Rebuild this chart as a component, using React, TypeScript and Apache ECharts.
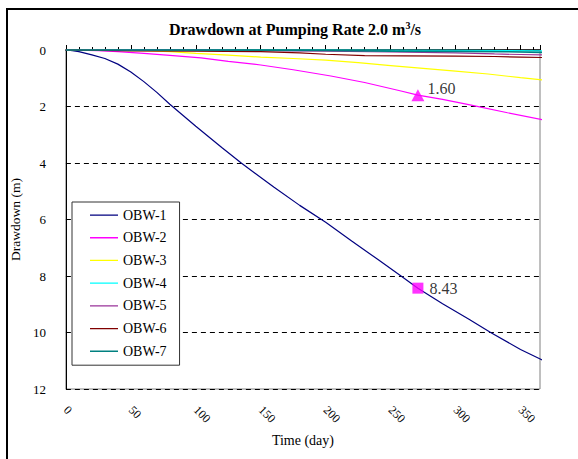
import React, { useEffect, useRef } from "react";
import * as echarts from "echarts";

const seriesNames = ["OBW-1", "OBW-2", "OBW-3", "OBW-4", "OBW-5", "OBW-6", "OBW-7"];
const seriesColors = ["#000080", "#FF00FF", "#FFFF00", "#00FFFF", "#993399", "#800000", "#008080"];

const obw1Days = [0, 5, 10, 20, 30, 40, 50, 60, 70, 80, 100, 120, 135, 160, 180, 200, 220, 240, 258, 271, 290, 310, 327, 350, 371];
const obw1Vals = [0, 0.02, 0.06, 0.17, 0.3, 0.5, 0.78, 1.12, 1.5, 1.92, 2.7, 3.45, 4.0, 4.85, 5.5, 6.1, 6.76, 7.41, 8.0, 8.43, 8.98, 9.52, 10.0, 10.6, 11.07];

const obw2Days = [0, 25, 40, 60, 80, 104, 125, 150, 175, 204, 230, 258, 271, 290, 312, 340, 371];
const obw2Vals = [0, 0.02, 0.06, 0.12, 0.19, 0.28, 0.4, 0.53, 0.7, 0.92, 1.15, 1.45, 1.6, 1.75, 1.95, 2.22, 2.51];

const obw3Days = [0, 60, 80, 100, 125, 150, 175, 200, 225, 250, 275, 300, 325, 350, 371];
const obw3Vals = [0, 0.02, 0.06, 0.12, 0.18, 0.25, 0.3, 0.36, 0.45, 0.55, 0.65, 0.75, 0.85, 0.98, 1.08];

const obw4Days = [0, 200, 300, 371];
const obw4Vals = [0, 0.0, 0.01, 0.03];

const obw5Days = [0, 100, 150, 200, 250, 300, 330, 350, 371];
const obw5Vals = [0, 0.01, 0.02, 0.04, 0.07, 0.1, 0.14, 0.16, 0.18];

const obw6Days = [0, 50, 100, 150, 180, 200, 230, 260, 300, 330, 350, 371];
const obw6Vals = [0, 0.03, 0.04, 0.06, 0.1, 0.15, 0.2, 0.21, 0.22, 0.23, 0.25, 0.27];

const obw7Days = [0, 150, 200, 250, 300, 340, 371];
const obw7Vals = [0, 0.01, 0.02, 0.04, 0.05, 0.06, 0.09];

const allDays = [obw1Days, obw2Days, obw3Days, obw4Days, obw5Days, obw6Days, obw7Days];
const allVals = [obw1Vals, obw2Vals, obw3Vals, obw4Vals, obw5Vals, obw6Vals, obw7Vals];

const triangleMark = [271, 1.6];
const squareMark = [271, 8.43];

const FONT = "Liberation Serif";
const LEGEND_LINE_ICON = "path://M0,0h0.01v0.01h-0.01Z M0,6.4h28v1.3h-28Z M27.99,13.99h0.01v0.01h-0.01Z";

export default function App() {
  const ref = useRef<HTMLDivElement>(null);
  useEffect(() => {
    if (!ref.current) return;
    const chart = echarts.init(ref.current, null, { renderer: "svg" });
    const lineSeries = seriesNames.map((name, i) => ({
      name,
      type: "line",
      xAxisIndex: 0,
      yAxisIndex: 0,
      data: allDays[i].map((d, j) => [d, allVals[i][j]]),
      symbol: "none",
      clip: false,
      lineStyle: { color: seriesColors[i], width: i === 6 ? 1.6 : 1.2 },
      itemStyle: { color: seriesColors[i] },
      z: 3 + i,
    }));
    const option: any = {
      animation: false,
      backgroundColor: "#ffffff",
      title: {
        text: "Drawdown at Pumping Rate 2.0 m{sup|3}/s",
        left: 290,
        top: 15,
        textAlign: "center",
        textStyle: {
          fontFamily: FONT,
          fontSize: 16,
          fontWeight: "bold",
          color: "#000",
          rich: {
            sup: { fontFamily: FONT, fontSize: 10, fontWeight: "bold", color: "#000", verticalAlign: "top", padding: [0, 0, 8, 0] },
          },
        },
      },
      graphic: [
        {
          type: "rect",
          shape: { x: 7, y: 9, width: 620, height: 520 },
          style: { fill: "none", stroke: "#000", lineWidth: 2 },
          silent: true,
          z: 0,
        },
      ],
      grid: { left: 65, right: 38, top: 50, bottom: 70, show: true, borderColor: "#808080", borderWidth: 1, backgroundColor: "transparent" },
      legend: {
        data: seriesNames.map((n) => ({ name: n, icon: LEGEND_LINE_ICON })),
        orient: "vertical",
        left: 72,
        top: 202,
        padding: [6, 13, 7, 18],
        itemWidth: 28,
        itemHeight: 14,
        itemGap: 8.7,
        borderColor: "#333",
        borderWidth: 1,
        backgroundColor: "#fff",
        textStyle: { fontFamily: FONT, fontSize: 14, color: "#000" },
      },
      xAxis: [
        {
          type: "value",
          position: "top",
          min: 0,
          max: 365,
          interval: 10,
          axisLine: { show: true, onZero: false, lineStyle: { color: "#000", width: 1.5 } },
          axisTick: { show: true, inside: false, length: 3, lineStyle: { color: "#000" } },
          axisLabel: { show: false },
          splitLine: { show: false },
        },
        {
          type: "value",
          position: "top",
          min: 0,
          max: 365,
          interval: 50,
          axisLine: { show: false, onZero: false },
          axisTick: { show: true, inside: false, length: 5, lineStyle: { color: "#000" } },
          axisLabel: { show: false },
          splitLine: { show: false },
        },
        {
          type: "value",
          position: "bottom",
          min: 0,
          max: 365,
          interval: 50,
          axisLine: { show: false, onZero: false },
          axisTick: { show: false },
          axisLabel: {
            rotate: -45,
            margin: 19,
            fontFamily: FONT,
            fontSize: 12,
            color: "#000",
            formatter: (v: number) => (v % 50 === 0 ? String(v) : ""),
          },
          splitLine: { show: false },
          name: "Time (day)",
          nameLocation: "middle",
          nameGap: 44,
          nameTextStyle: { fontFamily: FONT, fontSize: 14, color: "#000" },
        },
      ],
      yAxis: {
        type: "value",
        inverse: true,
        min: 0,
        max: 12,
        interval: 2,
        axisLine: { show: true, onZero: false, lineStyle: { color: "#000", width: 1 } },
        axisTick: { show: false },
        axisLabel: { fontFamily: FONT, fontSize: 13, color: "#000", margin: 20 },
        splitLine: { show: true, lineStyle: { color: "#000", type: [5, 4], width: 1 } },
        name: "Drawdown (m)",
        nameLocation: "middle",
        nameGap: 33,
        nameTextStyle: { fontFamily: FONT, fontSize: 13.5, color: "#000" },
      },
      series: [
        ...lineSeries,
        {
          name: "mark1",
          type: "scatter",
          data: [triangleMark],
          symbol: "triangle",
          symbolSize: [13, 12],
          itemStyle: { color: "#FF00FF" },
          label: {
            show: true,
            position: "right",
            distance: 3,
            offset: [0, -7],
            formatter: (p: any) => p.value[1].toFixed(2),
            fontFamily: FONT,
            fontSize: 16,
            color: "#000",
          },
          z: 20,
        },
        {
          name: "mark2",
          type: "scatter",
          data: [squareMark],
          symbol: "rect",
          symbolSize: [11, 11],
          itemStyle: { color: "#FF00FF" },
          label: {
            show: true,
            position: "right",
            distance: 6,
            formatter: (p: any) => p.value[1].toFixed(2),
            fontFamily: FONT,
            fontSize: 16,
            color: "#000",
          },
          z: 20,
        },
      ],
    };
    chart.setOption(option);
    return () => chart.dispose();
  }, []);
  return <div ref={ref} style={{ position: "fixed", left: 0, top: 0, width: 578, height: 459 }} />;
}
